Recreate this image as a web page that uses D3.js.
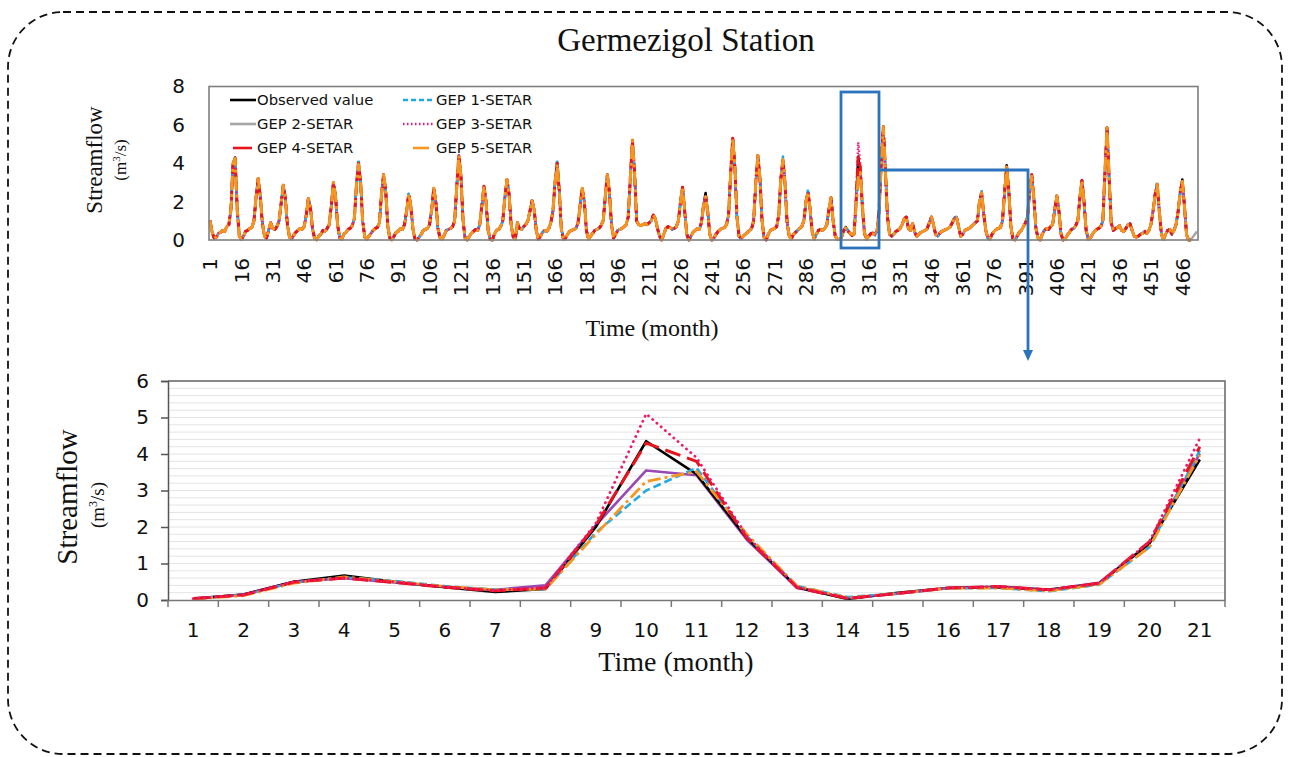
<!DOCTYPE html>
<html>
<head>
<meta charset="utf-8">
<script src="https://cdn.jsdelivr.net/npm/d3@7"></script>
<style>
  body { margin: 0; background: #fff; }
  svg { display: block; }
</style>
</head>
<body>
<svg id="chart" width="1290" height="757"></svg>
<script>
// ---------- data ----------
const seriesNames = ["Observed value", "GEP 1-SETAR", "GEP 2-SETAR", "GEP 3-SETAR", "GEP 4-SETAR", "GEP 5-SETAR"];

// Monthly streamflow (m3/s), months 1..470
const observedMonthly = [
  1.0, 0.4, 0.1, 0.15, 0.35, 0.4, 0.5, 0.45, 0.7, 0.8,
  1.6, 4.0, 4.3, 1.6, 0.2, 0.05, 0.2, 0.45, 0.5, 0.6,
  0.65, 1.0, 2.2, 3.2, 2.3, 0.9, 0.2, 0.1, 0.5, 0.9,
  0.6, 0.55, 0.7, 1.0, 1.9, 2.85, 2.2, 0.8, 0.15, 0.05,
  0.25, 0.4, 0.5, 0.6, 0.55, 0.7, 1.3, 2.15, 1.7, 0.6,
  0.1, 0.0, 0.2, 0.3, 0.5, 0.45, 0.6, 0.8, 1.8, 3.0,
  2.3, 0.8, 0.1, 0.05, 0.3, 0.4, 0.55, 0.6, 0.75, 1.1,
  2.8, 4.0, 3.0, 1.0, 0.15, 0.05, 0.2, 0.35, 0.5, 0.6,
  0.65, 0.9, 2.4, 3.4, 2.6, 0.7, 0.1, 0.0, 0.2, 0.4,
  0.45, 0.6, 0.55, 0.8, 1.5, 2.4, 1.8, 0.6, 0.05, 0.0,
  0.15, 0.3, 0.5, 0.55, 0.6, 0.8, 1.6, 2.7, 2.0, 0.6,
  0.1, 0.05, 0.25, 0.5, 0.55, 0.6, 0.7, 1.0, 2.8, 4.4,
  3.3, 1.0, 0.1, 0.0, 0.2, 0.35, 0.45, 0.55, 0.5, 0.8,
  1.8, 2.8, 2.0, 0.5, 0.05, 0.0, 0.3, 0.5, 0.55, 0.7,
  1.0, 2.2, 3.15, 2.4, 0.8, 0.15, 0.05, 0.9, 0.6, 0.55,
  0.7, 0.8, 1.0, 1.5, 2.05, 1.6, 0.5, 0.05, 0.2, 0.4,
  0.5, 0.45, 0.6, 0.9, 1.5, 3.0, 4.0, 2.6, 0.6, 0.05,
  0.1, 0.3, 0.45, 0.5, 0.55, 0.6, 0.9, 1.8, 2.7, 2.0,
  0.5, 0.05, 0.2, 0.35, 0.5, 0.55, 0.6, 0.75, 1.0, 2.2,
  3.4, 2.5, 0.8, 0.1, 0.3, 0.5, 0.55, 0.6, 0.7, 0.8,
  1.2, 3.2, 5.2, 3.6, 1.0, 0.8, 0.75, 0.8, 0.85, 0.8,
  0.9, 1.0, 1.3, 1.1, 0.6, 0.2, 0.0, 0.3, 0.6, 0.7,
  0.65, 0.55, 0.6, 0.7, 1.0, 2.0, 2.75, 1.5, 0.3, 0.0,
  0.2, 0.4, 0.5, 0.6, 0.55, 0.9, 1.8, 2.45, 1.5, 0.3,
  0.0, 0.1, 0.3, 0.45, 0.55, 0.6, 0.65, 0.8, 1.3, 3.5,
  5.3, 3.8, 1.2, 0.2, 0.05, 0.2, 0.3, 0.4, 0.5, 0.6,
  1.0, 3.0, 4.4, 3.2, 1.0, 0.1, 0.0, 0.3, 0.5, 0.55,
  0.6, 0.7, 1.3, 3.2, 4.2, 2.9, 0.9, 0.2, 0.05, 0.3,
  0.4, 0.5, 0.6, 0.7, 1.0, 2.0, 2.5, 1.6, 0.4, 0.05,
  0.3, 0.5, 0.55, 0.5, 0.6, 0.8, 1.6, 2.2, 1.0, 0.2,
  0.05, 0.03, 0.15, 0.5, 0.67, 0.5, 0.35, 0.22, 0.3, 2.0,
  4.35, 3.45, 1.7, 0.35, 0.03, 0.2, 0.33, 0.35, 0.28, 0.45,
  1.55, 3.85, 5.9, 3.6, 1.2, 0.3, 0.2, 0.3, 0.45, 0.5,
  0.6, 0.8, 1.1, 1.2, 0.6, 0.5, 0.85, 0.4, 0.2, 0.3,
  0.4, 0.45, 0.5, 0.6, 0.9, 1.2, 0.8, 0.3, 0.2, 0.35,
  0.45, 0.5, 0.55, 0.6, 0.7, 0.9, 1.15, 1.2, 0.7, 0.2,
  0.3, 0.5, 0.55, 0.6, 0.7, 0.8, 0.9, 1.0, 2.0, 2.45,
  1.4, 0.5, 0.1, 0.05, 0.3, 0.45, 0.55, 0.6, 0.65, 1.0,
  2.5, 3.9, 2.6, 0.7, 0.05, 0.0, 0.2, 0.4, 0.5, 0.7,
  0.9, 1.2, 2.6, 3.4, 2.2, 0.6, 0.1, 0.0, 0.3, 0.5,
  0.6, 0.55, 0.7, 0.8, 1.6, 2.3, 1.5, 0.3, 0.0, 0.05,
  0.25, 0.4, 0.55, 0.6, 0.75, 1.0, 2.2, 3.1, 2.0, 0.5,
  0.05, 0.1, 0.3, 0.45, 0.55, 0.6, 0.7, 1.0, 3.5, 5.85,
  3.2, 0.9, 0.5, 0.6, 0.65, 0.75, 0.5, 0.45, 0.6, 0.8,
  0.85, 0.5, 0.2, 0.15, 0.2, 0.3, 0.35, 0.45, 0.35, 0.5,
  0.8, 1.5, 2.4, 2.9, 1.5, 0.3, 0.05, 0.3, 0.5, 0.55,
  0.3, 0.5, 0.8, 1.5, 2.5, 3.15, 1.8, 0.3, 0.0, 0.0
];
// GEP 2-SETAR runs three months longer (months 471..473)
const gep2Tail = [0.15, 0.3, 0.45];

// Peaks where the model curves part from the observed curve: {month: value}
const gep1Peaks = {13: 4.2, 72: 4.2, 167: 4.2, 238: 2.25, 275: 4.35, 287: 2.65, 370: 2.6, 382: 3.8, 454: 3.05, 466: 3.05};
const gep2Peaks = {13: 4.25, 238: 2.25, 382: 3.8, 466: 3.05};
const gep3Peaks = {13: 4.25, 238: 2.25, 382: 3.8, 466: 3.05};
const gep4Peaks = {13: 4.25, 238: 2.25, 382: 3.8, 466: 3.05};
const gep5Peaks = {13: 4.25, 72: 3.95, 167: 3.95, 238: 2.25, 275: 4.2, 287: 2.5, 370: 2.45, 382: 3.8, 454: 2.9, 466: 3.05};

// Detail window: months 302..322 shown as categories 1..21
const detailStartMonth = 302;
const detailCategories = [1, 2, 3, 4, 5, 6, 7, 8, 9, 10, 11, 12, 13, 14, 15, 16, 17, 18, 19, 20, 21];
const detailObserved = [0.03, 0.15, 0.5, 0.67, 0.5, 0.35, 0.22, 0.3, 2.0, 4.35, 3.45, 1.7, 0.35, 0.03, 0.2, 0.33, 0.35, 0.28, 0.45, 1.55, 3.85];
const detailGep1 = [0.04, 0.14, 0.48, 0.62, 0.52, 0.38, 0.28, 0.3, 1.85, 3.0, 3.62, 1.75, 0.38, 0.08, 0.18, 0.32, 0.33, 0.24, 0.42, 1.45, 4.1];
const detailGep2 = [0.04, 0.15, 0.5, 0.6, 0.48, 0.36, 0.28, 0.4, 2.05, 3.55, 3.42, 1.65, 0.33, 0.05, 0.17, 0.33, 0.37, 0.28, 0.47, 1.55, 4.02];
const detailGep3 = [0.04, 0.14, 0.5, 0.6, 0.5, 0.36, 0.26, 0.34, 2.1, 5.1, 3.9, 1.75, 0.35, 0.05, 0.18, 0.33, 0.37, 0.28, 0.46, 1.6, 4.43];
const detailGep4 = [0.04, 0.14, 0.49, 0.6, 0.48, 0.35, 0.25, 0.33, 2.05, 4.3, 3.8, 1.7, 0.34, 0.04, 0.18, 0.33, 0.37, 0.28, 0.46, 1.6, 4.2];
const detailGep5 = [0.03, 0.12, 0.46, 0.63, 0.5, 0.37, 0.28, 0.3, 1.8, 3.25, 3.52, 1.8, 0.38, 0.06, 0.18, 0.32, 0.33, 0.25, 0.43, 1.45, 3.97];

// Axis ticks
const monthCount = 473;
const monthTicks = [1, 16, 31, 46, 61, 76, 91, 106, 121, 136, 151, 166, 181, 196, 211, 226, 241, 256, 271, 286, 301, 316, 331, 346, 361, 376, 391, 406, 421, 436, 451, 466];
const overviewYTicks = [0, 2, 4, 6, 8];
const detailYTicks = [0, 1, 2, 3, 4, 5, 6];

// ---------- helpers ----------
const SANS = "'DejaVu Sans', sans-serif";
const SERIF = "'Liberation Serif', 'Times New Roman', serif";

function monthlySeries(detailVals, peaks, tail) {
  const s = observedMonthly.slice();
  detailVals.forEach((v, i) => { s[detailStartMonth - 1 + i] = v; });
  Object.entries(peaks).forEach(([m, v]) => { s[+m - 1] = v; });
  return tail ? s.concat(tail) : s;
}

const overviewData = [
  monthlySeries(detailObserved, {}),
  monthlySeries(detailGep1, gep1Peaks),
  monthlySeries(detailGep2, gep2Peaks, gep2Tail),
  monthlySeries(detailGep3, gep3Peaks),
  monthlySeries(detailGep4, gep4Peaks),
  monthlySeries(detailGep5, gep5Peaks)
];
const detailData = [detailObserved, detailGep1, detailGep2, detailGep3, detailGep4, detailGep5];

const overviewStyle = [
  {color: "#000000", width: 2.5, dash: null},
  {color: "#22A8E0", width: 2.5, dash: "5,3"},
  {color: "#A6A6A6", width: 2.5, dash: null},
  {color: "#EC1A78", width: 2.5, dash: "1.5,2.5"},
  {color: "#E8141C", width: 3.0, dash: "9,4"},
  {color: "#F7961E", width: 3.0, dash: "14,4,3,4"}
];
const detailStyle = [
  {color: "#000000", width: 2.6, dash: null, cap: "butt"},
  {color: "#26A9E0", width: 2.6, dash: "8,4", cap: "butt"},
  {color: "#9A48B4", width: 2.6, dash: null, cap: "butt"},
  {color: "#F0176F", width: 2.8, dash: "0.1,5.5", cap: "round"},
  {color: "#E8141C", width: 3.0, dash: "16,7", cap: "butt"},
  {color: "#F7961E", width: 2.8, dash: "13,4,3,4", cap: "butt"}
];

const svg = d3.select("#chart");

// ---------- outer dashed frame ----------
svg.append("rect")
  .attr("x", 8).attr("y", 12).attr("width", 1274).attr("height", 742)
  .attr("rx", 55).attr("ry", 55)
  .attr("fill", "none").attr("stroke", "#111").attr("stroke-width", 1.8)
  .attr("stroke-dasharray", "8,5");

svg.append("text")
  .attr("x", 686).attr("y", 51)
  .attr("text-anchor", "middle")
  .style("font-family", SERIF).style("font-size", "33px").attr("fill", "#111")
  .text("Germezigol Station");

// ---------- overview chart ----------
const ov = {left: 209, right: 1198, top: 86.5, bottom: 240};
const xo = d3.scaleBand().domain(d3.range(1, monthCount + 1)).range([ov.left, ov.right]);
const yo = d3.scaleLinear().domain([0, 8]).range([ov.bottom, ov.top]);
const xoMid = m => xo(m) + xo.bandwidth() / 2;

const gOv = svg.append("g");

// lines (observed first, GEP 5 on top)
const lineOv = d3.line().x((d, i) => xoMid(i + 1)).y(d => yo(d));
[0, 2, 1, 3, 4, 5].forEach(k => {
  const st = overviewStyle[k];
  gOv.append("path")
    .datum(overviewData[k])
    .attr("d", lineOv)
    .attr("fill", "none")
    .attr("stroke", st.color)
    .attr("stroke-width", st.width)
    .attr("stroke-linejoin", "round")
    .attr("stroke-dasharray", st.dash);
});

// plot border
gOv.append("rect")
  .attr("x", ov.left).attr("y", ov.top)
  .attr("width", ov.right - ov.left).attr("height", ov.bottom - ov.top)
  .attr("fill", "none").attr("stroke", "#7f7f7f").attr("stroke-width", 1.6);

// y axis
const yAxisOv = gOv.append("g")
  .attr("transform", `translate(${ov.left},0)`)
  .call(d3.axisLeft(yo).tickValues(overviewYTicks).tickSize(0).tickPadding(24).tickFormat(d3.format("d")));
yAxisOv.select(".domain").remove();
yAxisOv.selectAll("text").style("font-family", SANS).style("font-size", "20px").attr("fill", "#111");

// x axis with vertical labels
const xAxisOv = gOv.append("g")
  .attr("transform", `translate(0,${ov.bottom})`)
  .call(d3.axisBottom(xo).tickValues(monthTicks).tickSize(0));
xAxisOv.select(".domain").remove();
xAxisOv.selectAll("text")
  .style("font-family", SANS).style("font-size", "20px").attr("fill", "#111")
  .attr("text-anchor", "end")
  .attr("transform", "rotate(-90)")
  .attr("x", -18).attr("y", 0).attr("dy", "0.36em");

gOv.append("text")
  .attr("x", 652).attr("y", 336).attr("text-anchor", "middle")
  .style("font-family", SERIF).style("font-size", "24px").attr("fill", "#111")
  .text("Time (month)");

gOv.append("text")
  .attr("transform", "translate(102,160) rotate(-90)")
  .attr("text-anchor", "middle")
  .style("font-family", SERIF).style("font-size", "23px").attr("fill", "#111")
  .text("Streamflow");
const unitOv = gOv.append("text")
  .attr("transform", "translate(126,160) rotate(-90)")
  .attr("text-anchor", "middle")
  .style("font-family", SERIF).style("font-size", "17px").attr("fill", "#111");
unitOv.append("tspan").text("(m");
unitOv.append("tspan").attr("baseline-shift", "super").style("font-size", "11px").text("3");
unitOv.append("tspan").text("/s)");

// legend
const legendItems = [
  {k: 0, x1: 230, x2: 256, tx: 257, y: 100},
  {k: 1, x1: 403, x2: 435, tx: 436, y: 100},
  {k: 2, x1: 230, x2: 256, tx: 257, y: 124},
  {k: 3, x1: 403, x2: 435, tx: 436, y: 124},
  {k: 4, x1: 233, x2: 252, tx: 257, y: 148},
  {k: 5, x1: 413, x2: 429, tx: 436, y: 148}
];
const legend = gOv.append("g");
legendItems.forEach(it => {
  const st = overviewStyle[it.k];
  legend.append("line")
    .attr("x1", it.x1).attr("x2", it.x2).attr("y1", it.y).attr("y2", it.y)
    .attr("stroke", st.color).attr("stroke-width", 2.6)
    .attr("stroke-dasharray", (it.k === 4 || it.k === 5) ? null : st.dash);
  legend.append("text")
    .attr("x", it.tx).attr("y", it.y).attr("dy", "0.36em")
    .style("font-family", SANS).style("font-size", "14.8px").attr("fill", "#111")
    .text(seriesNames[it.k]);
});

// ---------- highlight box and arrow ----------
const blue = "#2C73BD";
svg.append("rect")
  .attr("x", 841).attr("y", 92).attr("width", 38).attr("height", 156)
  .attr("fill", "none").attr("stroke", blue).attr("stroke-width", 2.8);
svg.append("path")
  .attr("d", "M879,170 H1028 V352")
  .attr("fill", "none").attr("stroke", blue).attr("stroke-width", 2.8);
svg.append("path")
  .attr("d", "M1023,350 L1033,350 L1028,361 Z").attr("fill", blue);

// ---------- detail chart ----------
const dt = {left: 168, right: 1225, top: 381, bottom: 600};
const xd = d3.scaleBand().domain(detailCategories).range([dt.left, dt.right]);
const yd = d3.scaleLinear().domain([0, 6]).range([dt.bottom, dt.top]);
const xdMid = c => xd(c) + xd.bandwidth() / 2;

const gDt = svg.append("g");

// minor gridlines every 0.2
gDt.append("g").selectAll("line")
  .data(d3.range(1, 31).map(i => i / 5))
  .join("line")
  .attr("x1", dt.left).attr("x2", dt.right)
  .attr("y1", d => yd(d)).attr("y2", d => yd(d))
  .attr("stroke", "#e4e4e4").attr("stroke-width", 1);

// frame: top and right
gDt.append("path")
  .attr("d", `M${dt.left},${dt.top} H${dt.right} V${dt.bottom}`)
  .attr("fill", "none").attr("stroke", "#666").attr("stroke-width", 1.5);

// lines
const lineDt = d3.line().x((d, i) => xdMid(detailCategories[i])).y(d => yd(d));
[2, 0, 1, 5, 4, 3].forEach(k => {
  const st = detailStyle[k];
  gDt.append("path")
    .datum(detailData[k])
    .attr("d", lineDt)
    .attr("fill", "none")
    .attr("stroke", st.color)
    .attr("stroke-width", st.width)
    .attr("stroke-linejoin", "round")
    .attr("stroke-linecap", st.cap)
    .attr("stroke-dasharray", st.dash);
});

// y axis
const yAxisDt = gDt.append("g")
  .attr("transform", `translate(${dt.left},0)`)
  .call(d3.axisLeft(yd).tickValues(detailYTicks).tickSize(7).tickPadding(12).tickFormat(d3.format("d")));
yAxisDt.selectAll("path, line").attr("stroke", "#555").attr("stroke-width", 1.5);
yAxisDt.selectAll("text").style("font-family", SANS).style("font-size", "20px").attr("fill", "#111");

// x axis: labels centered in categories, ticks on category boundaries
const xAxisDt = gDt.append("g")
  .attr("transform", `translate(0,${dt.bottom})`)
  .call(d3.axisBottom(xd).tickSize(0).tickPadding(23));
xAxisDt.select(".domain").attr("stroke", "#777").attr("stroke-width", 1.5);
xAxisDt.selectAll("text").style("font-family", SANS).style("font-size", "20px").attr("fill", "#111");
gDt.append("g").selectAll("line")
  .data(detailCategories.map(c => xd(c)).concat([dt.right]))
  .join("line")
  .attr("x1", d => d).attr("x2", d => d)
  .attr("y1", dt.bottom).attr("y2", dt.bottom + 7)
  .attr("stroke", "#777").attr("stroke-width", 1.5);

gDt.append("text")
  .attr("x", 676).attr("y", 671).attr("text-anchor", "middle")
  .style("font-family", SERIF).style("font-size", "28px").attr("fill", "#111")
  .text("Time (month)");

gDt.append("text")
  .attr("transform", "translate(77,497) rotate(-90)")
  .attr("text-anchor", "middle")
  .style("font-family", SERIF).style("font-size", "29px").attr("fill", "#111")
  .text("Streamflow");
const unitDt = gDt.append("text")
  .attr("transform", "translate(104,505) rotate(-90)")
  .attr("text-anchor", "middle")
  .style("font-family", SERIF).style("font-size", "19px").attr("fill", "#111");
unitDt.append("tspan").text("(m");
unitDt.append("tspan").attr("baseline-shift", "super").style("font-size", "12px").text("3");
unitDt.append("tspan").text("/s)");
</script>
</body>
</html>
